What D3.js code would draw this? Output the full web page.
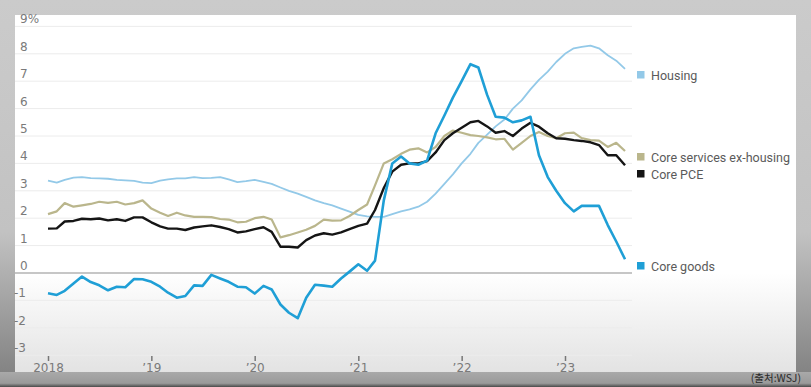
<!DOCTYPE html>
<html>
<head>
<meta charset="utf-8">
<script src="https://cdn.jsdelivr.net/npm/d3@7"></script>
<style>
  body { margin: 0; background: #c8c8c8; }
  svg { display: block; }
</style>
</head>
<body>
<div id="chart"></div>
<script>
// Set dimensions and margins
const width = 811;
const height = 387;
const panel = {left: 15, right: 796, top: 15, bottom: 372};
const plot = {left: 15, right: 632};

// monthly data, Jan 2018 .. Aug 2023
const startYear = 2018;
const housing = [3.37,3.3,3.4,3.48,3.5,3.46,3.45,3.44,3.4,3.38,3.36,3.3,
  3.28,3.37,3.42,3.45,3.45,3.5,3.46,3.47,3.5,3.42,3.32,3.35,
  3.4,3.33,3.25,3.12,3.0,2.9,2.78,2.65,2.55,2.47,2.35,2.24,
  2.12,2.07,2.05,2.05,2.15,2.25,2.32,2.42,2.6,2.9,3.25,3.6,
  4.0,4.35,4.75,5.05,5.35,5.6,6.0,6.3,6.7,7.05,7.35,7.7,
  8.0,8.2,8.25,8.3,8.2,7.95,7.75,7.45];
const services = [2.15,2.25,2.55,2.42,2.47,2.52,2.6,2.56,2.6,2.5,2.55,2.65,
  2.35,2.2,2.08,2.2,2.1,2.05,2.05,2.04,1.97,1.95,1.85,1.87,
  2.0,2.05,1.95,1.3,1.38,1.48,1.58,1.72,1.95,1.91,1.92,2.08,
  2.3,2.5,3.2,4.0,4.15,4.35,4.5,4.55,4.4,4.6,5.0,5.2,
  5.12,5.03,5.0,4.95,4.88,4.9,4.5,4.75,5.0,5.15,5.0,4.92,
  5.1,5.12,4.92,4.85,4.83,4.6,4.75,4.45];
const corePce = [1.62,1.63,1.88,1.9,1.98,1.96,1.99,1.92,1.96,1.9,2.03,2.03,
  1.85,1.7,1.62,1.62,1.57,1.66,1.7,1.74,1.68,1.6,1.48,1.52,
  1.6,1.67,1.5,0.96,0.96,0.93,1.2,1.37,1.45,1.4,1.48,1.6,
  1.72,1.8,2.3,3.1,3.7,3.95,4.0,4.0,4.08,4.4,4.85,5.1,
  5.3,5.5,5.55,5.35,5.12,5.18,5.0,5.27,5.48,5.34,5.1,4.92,
  4.9,4.85,4.82,4.77,4.67,4.3,4.3,3.93];
const goods = [-0.74,-0.8,-0.65,-0.38,-0.13,-0.33,-0.45,-0.63,-0.5,-0.52,-0.22,-0.23,
  -0.32,-0.5,-0.72,-0.9,-0.84,-0.45,-0.47,-0.07,-0.2,-0.32,-0.5,-0.52,
  -0.75,-0.47,-0.6,-1.15,-1.45,-1.65,-0.9,-0.43,-0.46,-0.5,-0.2,0.05,
  0.32,0.08,0.45,2.65,4.0,4.25,4.0,3.95,4.1,5.1,5.75,6.4,
  7.0,7.62,7.5,6.5,5.7,5.67,5.5,5.57,5.7,4.3,3.5,3.0,
  2.55,2.25,2.45,2.45,2.45,1.75,1.15,0.5];

const yTicks = [9,8,7,6,5,4,3,2,1,0,-1,-2,-3];
const xTickYears = [2018,2019,2020,2021,2022,2023];
const xTickLabels = ["2018","\u201919","\u201920","\u201921","\u201922","\u201923"];

const seriesNames = ["Housing","Core services ex-housing","Core PCE","Core goods"];
const seriesData = [housing, services, corePce, goods];
const colors = ["#93c9e8","#bab68c","#151515","#1f9fd6"];
const widths = [1.8, 2.2, 2.4, 2.6];
const legendY = [75, 157, 174, 266];

const months = d3.range(housing.length).map(i => new Date(startYear, i, 1));

const svg = d3.select("#chart")
  .append("svg")
  .attr("width", width)
  .attr("height", height);

const defs = svg.append("defs");
const g1 = defs.append("linearGradient").attr("id","pageGrad").attr("x1",0).attr("x2",0).attr("y1",0).attr("y2",1);
g1.append("stop").attr("offset","0%").attr("stop-color","#cbcbcb");
g1.append("stop").attr("offset","60%").attr("stop-color","#c2c2c2");
g1.append("stop").attr("offset","100%").attr("stop-color","#7d7d7d");
const g2 = defs.append("linearGradient").attr("id","lowGrad").attr("x1",0).attr("x2",0).attr("y1",0).attr("y2",1);
g2.append("stop").attr("offset","0%").attr("stop-color","#ffffff");
g2.append("stop").attr("offset","100%").attr("stop-color","#e3e3e3");
const g3 = defs.append("linearGradient").attr("id","stripGrad").attr("x1",0).attr("x2",0).attr("y1",0).attr("y2",1);
g3.append("stop").attr("offset","0%").attr("stop-color","#a9a9a9");
g3.append("stop").attr("offset","75%").attr("stop-color","#9a9a9a");
g3.append("stop").attr("offset","100%").attr("stop-color","#4a4a4a");

// background + white panel
svg.append("rect").attr("width", width).attr("height", height).attr("fill", "url(#pageGrad)");
svg.append("rect")
  .attr("x", panel.left).attr("y", panel.top)
  .attr("width", panel.right - panel.left).attr("height", panel.bottom - panel.top)
  .attr("fill", "#fff");

// scales
const x = d3.scaleTime()
  .domain([new Date(2018,0,1), new Date(2023,0,1)])
  .range([48, 565]);
const y = d3.scaleLinear()
  .domain([-3, 9])
  .range([355.2, 26.4]);

// shaded area below zero
svg.append("rect")
  .attr("x", panel.left).attr("y", y(0))
  .attr("width", panel.right - panel.left).attr("height", panel.bottom - y(0))
  .attr("fill", "url(#lowGrad)");

// gridlines
svg.append("g")
  .selectAll("line")
  .data(yTicks)
  .join("line")
    .attr("x1", plot.left).attr("x2", plot.right)
    .attr("y1", d => y(d)).attr("y2", d => y(d))
    .attr("stroke", d => d === 0 ? "#8d8d8d" : "#ececec")
    .attr("stroke-width", d => d === 0 ? 1.2 : 1);

// y labels
svg.append("g")
  .selectAll("text")
  .data(yTicks)
  .join("text")
    .attr("x", d => d < 0 ? 14 : 20)
    .attr("y", d => y(d) - 3)
    .attr("font-family", "DejaVu Sans, sans-serif")
    .attr("font-size", 12)
    .attr("fill", "#7a7a7a")
    .text(d => d === 9 ? "9%" : (d < 0 ? "-" + Math.abs(d) : d));

// x axis
const xAxis = svg.append("g")
  .attr("transform", "translate(0,356)")
  .call(d3.axisBottom(x)
    .tickValues(xTickYears.map(yr => new Date(yr,0,1)))
    .tickSize(5)
    .tickFormat((d,i) => xTickLabels[i]));
xAxis.select(".domain").remove();
xAxis.selectAll("line").attr("stroke", "#777").attr("stroke-width", 1.5);
xAxis.selectAll("text")
  .attr("y", 7)
  .attr("font-family", "DejaVu Sans, sans-serif")
  .attr("font-size", 12)
  .attr("fill", "#7a7a7a");

// lines
const line = d3.line()
  .x((d,i) => x(months[i]))
  .y(d => y(d));

svg.append("g")
  .selectAll("path")
  .data(seriesData)
  .join("path")
    .attr("d", d => line(d))
    .attr("fill", "none")
    .attr("stroke", (d,i) => colors[i])
    .attr("stroke-width", (d,i) => widths[i])
    .attr("stroke-linejoin", "round");

// legend
const legend = svg.append("g")
  .selectAll("g")
  .data(seriesNames)
  .join("g")
    .attr("transform", (d,i) => `translate(637,${legendY[i]})`);
legend.append("rect")
  .attr("x", 0).attr("y", -4)
  .attr("width", 7.5).attr("height", 7.5)
  .attr("fill", (d,i) => colors[i]);
legend.append("text")
  .attr("x", 14).attr("y", 4.5)
  .attr("font-family", "Roboto, sans-serif")
  .attr("font-size", 12.5)
  .attr("fill", "#5a5a5a")
  .text(d => d);

// bottom strip with source
svg.append("rect")
  .attr("x", 0).attr("y", panel.bottom)
  .attr("width", width).attr("height", height - panel.bottom)
  .attr("fill", "url(#stripGrad)");
svg.append("text")
  .attr("x", 801).attr("y", 382)
  .attr("text-anchor", "end")
  .attr("font-family", "Noto Sans CJK KR, sans-serif")
  .attr("font-size", 10.5)
  .attr("fill", "#2a2a2a")
  .text("(출처:WSJ)");
</script>
</body>
</html>
